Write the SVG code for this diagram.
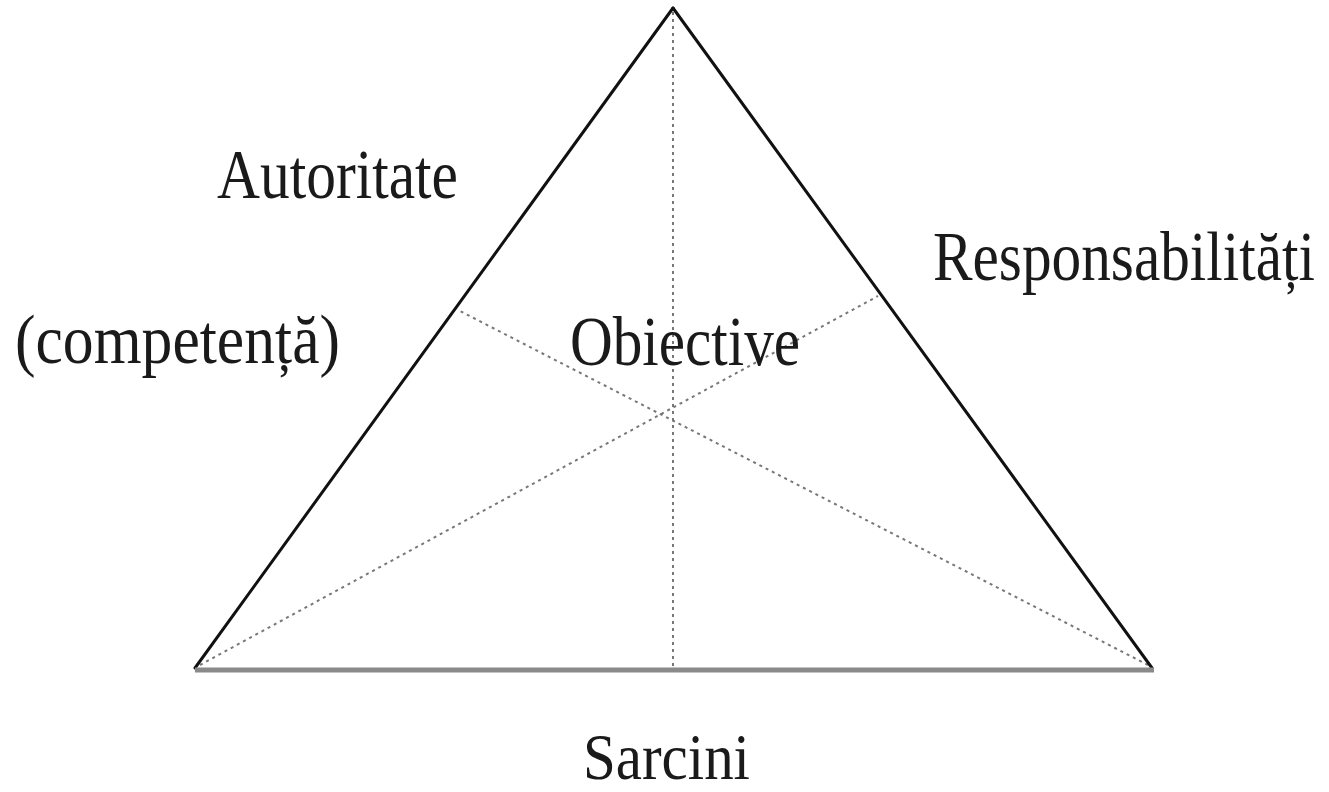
<svg xmlns="http://www.w3.org/2000/svg" width="1329" height="792" viewBox="0 0 1329 792">
<style>
.lbl{font-family:"Liberation Serif","Times New Roman",serif;font-size:70px;fill:#1a1a1a}
.side{stroke:#111;stroke-width:3;fill:none;stroke-linecap:round}
.dot{stroke:#777;stroke-width:2;stroke-dasharray:3 4;fill:none}
</style>
<rect width="1329" height="792" fill="#fff"/>
<g id="connectors">
<line class="dot" x1="673" y1="12" x2="673" y2="668"/>
<line class="dot" x1="200" y1="665" x2="878" y2="296"/>
<line class="dot" x1="1148" y1="665" x2="458" y2="310"/>
</g>
<g id="triangle">
<line class="side" x1="673" y1="8" x2="195" y2="668"/>
<line class="side" x1="673" y1="8" x2="1152" y2="668"/>
<line x1="195" y1="670" x2="1154" y2="670" stroke="#8a8a8a" stroke-width="5"/>
</g>
<g id="autoritate"><text class="lbl" x="217" y="198" textLength="241" lengthAdjust="spacingAndGlyphs">Autoritate</text></g>
<g id="competenta"><text class="lbl" x="15" y="363" textLength="325" lengthAdjust="spacingAndGlyphs">(competență)</text></g>
<g id="obiective"><text class="lbl" x="570" y="365" textLength="230" lengthAdjust="spacingAndGlyphs">Obiective</text></g>
<g id="responsabilitati"><text class="lbl" transform="translate(933,280) scale(1,1.15)" x="0" y="0" style="font-size:60px" textLength="382" lengthAdjust="spacingAndGlyphs">Responsabilități</text></g>
<g id="sarcini"><text class="lbl" x="583" y="779" style="font-size:66px" textLength="167" lengthAdjust="spacingAndGlyphs">Sarcini</text></g>
</svg>
